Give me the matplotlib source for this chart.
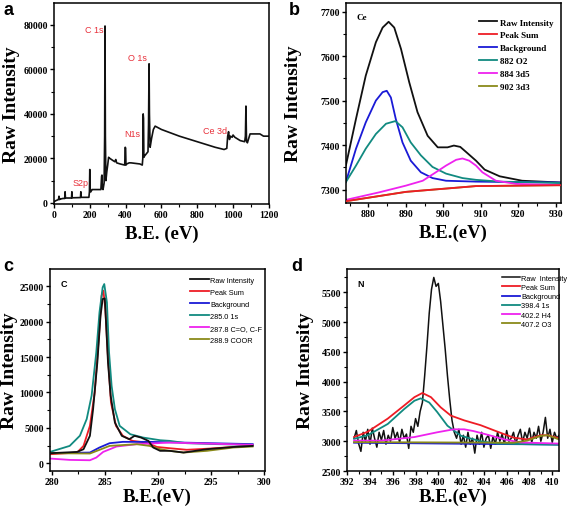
import matplotlib
matplotlib.use("Agg")
from matplotlib import pyplot as plt
from matplotlib.ticker import MultipleLocator

# ---------------- data ----------------
# (a) survey spectrum
a_x = [0, 10, 25, 28, 31, 34, 50, 60, 62, 64, 98, 100, 102, 148, 150, 152, 195, 198, 200, 202,
       206, 212, 216, 240, 262, 266, 268, 270, 274, 280, 283, 285, 287, 290, 295, 300, 305, 312,
       330, 340, 345, 350, 370, 395, 398, 400, 402, 406, 420, 430, 450, 480, 493, 496, 498, 500,
       502, 505, 515, 525, 528, 531, 533, 537, 545, 555, 565, 600, 700, 800, 900, 950, 965, 970,
       975, 980, 985, 995, 1000, 1010, 1040, 1065, 1069, 1072, 1075, 1080, 1095, 1110, 1150,
       1170, 1200]
a_y = [500, 1000, 1500, 3000, 1500, 1700, 2000, 2000, 5000, 2200, 2200, 5000, 2300, 2400, 5000,
       2500, 2500, 5000, 15000, 5000, 5000, 6000, 6000, 6000, 6000, 12000, 12500, 6500, 6000,
       9000, 30000, 79500, 30000, 10000, 14000, 17000, 20500, 20000, 19000, 18500, 19500, 18000,
       17500, 17000, 25000, 24500, 17000, 17500, 18000, 18000, 17800, 17500, 17000, 20000, 40000,
       38000, 20500, 21000, 22000, 23000, 35000, 62500, 40000, 25000, 29000, 33000, 34500, 33000,
       30000, 27500, 25000, 24000, 24500, 30000, 32000, 28500, 30000, 29500, 30500, 29500, 28000,
       27500, 30000, 43500, 28000, 27000, 31000, 31000, 31000, 30000, 30000]
a_labels = ["C 1s", "O 1s", "N1s", "Ce 3d", "S2p"]
a_label_pos = [(223, 77900), (465, 65250), (437, 31300), (902, 32500), (149, 9240)]

# (b) Ce
b_raw_x = [874, 876.7, 879.3, 882, 883.8, 885.4, 886.9, 888.7, 890.9, 893.1, 895.8, 898.5,
           901.1, 902.8, 904.5, 906, 908.7, 911, 915, 921, 931.3]
b_raw_y = [7354, 7459, 7556, 7631, 7664, 7677, 7664, 7616, 7541, 7474, 7421, 7395, 7395, 7399,
           7396, 7385, 7365, 7345, 7330, 7320, 7316]
b_bg_x = [874, 876.7, 879.3, 882, 883.8, 884.9, 886, 887.3, 889.1, 891.3, 894, 897.1, 900.7,
          908.7, 931.3]
b_bg_y = [7317, 7392, 7451, 7500, 7519, 7522, 7507, 7459, 7406, 7365, 7339, 7326, 7320, 7318,
          7316]
b_o2_x = [874, 876.7, 879.3, 882, 884.7, 887.2, 889.1, 891.3, 894, 897.1, 900.7, 905.1, 908.7,
          915, 931.3]
b_o2_y = [7317, 7354, 7392, 7425, 7448, 7454, 7440, 7406, 7377, 7351, 7336, 7326, 7322, 7318,
          7315]
b_3d5_x = [874, 882.9, 890, 894.5, 898, 900.7, 903.4, 905.1, 906.9, 908.7, 910.4, 914, 919.3,
           931.3]
b_3d5_y = [7277, 7294, 7309, 7320, 7339, 7354, 7367, 7370, 7365, 7354, 7339, 7320, 7313, 7310]
b_sum_x = [874, 890, 908.7, 931.3]
b_sum_y = [7274, 7295, 7308, 7310]

# (c) C
c_raw_x = [279.85, 282.4, 283, 283.6, 283.9, 284.3, 284.6, 284.8, 285, 285.1, 285.3, 285.55,
           285.95, 286.6, 287.3, 287.8, 288.4, 289.1, 289.55, 290.2, 291.1, 292.4, 294.6, 297.1,
           298.9]
c_raw_y = [1415, 1600, 1980, 3870, 7640, 14250, 20850, 23210, 23300, 20380, 14250, 9550, 5750,
           3870, 3400, 3870, 3630, 3160, 2220, 1750, 1750, 1510, 1980, 2300, 2450]
c_sum_x = [279.85, 282.4, 283, 283.6, 284.05, 284.45, 284.7, 284.87, 285.05, 285.27, 285.58,
           286.05, 286.7, 287.6, 288.9, 289.9, 291.1, 292.7, 294.6, 297.1, 298.9]
c_sum_y = [1270, 1510, 2450, 5280, 10000, 18020, 23680, 24390, 21790, 15660, 8580, 5280, 3870,
           3160, 2920, 2300, 2120, 1900, 2050, 2300, 2550]
c_bg_x = [279.85, 283.6, 284.5, 285.45, 286.7, 289.2, 298.9]
c_bg_y = [1415, 1510, 2220, 2830, 3020, 3020, 2700]
c_1s_x = [279.85, 281.7, 282.66, 283.3, 283.76, 284.2, 284.5, 284.8, 284.95, 285.2, 285.4,
          285.64, 285.95, 286.4, 287.4, 288.6, 290.2, 291.1, 292.7, 295.5, 298.9]
c_1s_y = [1600, 2450, 3890, 6250, 9550, 15660, 21320, 24860, 25330, 22730, 15660, 10940, 7640,
          5280, 4100, 3630, 3250, 3160, 2830, 2700, 2600]
c_co_x = [279.85, 281.7, 283.6, 284.2, 284.85, 286.1, 288, 291.1, 298.9]
c_co_y = [660, 470, 420, 800, 1600, 2360, 2690, 2920, 2600]
c_coor_x = [279.85, 283.6, 284.5, 285.45, 288, 289.2, 290.2, 291.1, 292.4, 294.6, 297.1, 298.9]
c_coor_y = [1415, 1370, 1890, 2450, 2690, 2450, 1990, 1750, 1510, 1750, 2220, 2360]

# (d) N
d_raw_x = [392.6, 392.8, 393.0, 393.2, 393.4, 393.6, 393.8, 394.0, 394.2, 394.4,
           394.6, 394.8, 395.0, 395.2, 395.4, 395.6, 395.8, 396.0, 396.2, 396.4,
           396.6, 396.8, 397.0, 397.2, 397.4, 397.6, 397.8, 398.0, 398.2, 398.4,
           398.6, 398.8, 399.0, 399.2, 399.4, 399.6, 399.8, 400.0, 400.2, 400.4,
           400.6, 400.8, 401.0, 401.2, 401.4, 401.6, 401.8, 402.0, 402.2, 402.4,
           402.6, 402.8, 403.0, 403.2, 403.4, 403.6, 403.8, 404.0, 404.2, 404.4,
           404.6, 404.8, 405.0, 405.2, 405.4, 405.6, 405.8, 406.0, 406.2, 406.4,
           406.6, 406.8, 407.0, 407.2, 407.4, 407.6, 407.8, 408.0, 408.2, 408.4,
           408.6, 408.8, 409.0, 409.2, 409.4, 409.6, 409.8, 410.0, 410.2, 410.4,
           410.6]
d_raw_y = [3050, 3180, 2960, 2830, 3150, 3000, 3200, 2950, 3220, 3050,
           2900, 3150, 3020, 3180, 2950, 3100, 3000, 3230, 3050, 3150,
           2980, 3200, 3050, 3120, 2880, 3250, 3150, 3380, 3250, 3500,
           3650, 4100, 4600, 5150, 5550, 5750, 5600, 5650, 5350, 4950,
           4550, 4100, 3700, 3350, 3150, 3050, 3200, 2950, 3100, 2900,
           3150, 2950, 3050, 2800, 3100, 2950, 3150, 2900, 3050, 3100,
           2880, 3080, 2950, 3150, 3000, 3120, 2950, 3180, 3000, 3050,
           3150, 2950, 3100, 3200, 2980, 3150, 3050, 3220, 2980, 3150,
           3050, 3250, 3000, 3150, 3400, 3050, 3200, 2980, 3150, 3050,
           3100]
d_sum_x = [392.6, 393.8, 395.56, 397, 397.9, 398.6, 399.35, 400.2, 401.1, 402.27, 403.7, 405.2,
           406.6, 407.8, 409, 409.6, 410.6]
d_sum_y = [3070, 3160, 3380, 3600, 3740, 3810, 3740, 3570, 3430, 3350, 3270, 3160, 3060, 3030,
           3100, 3100, 3050]
d_bg_x = [392.6, 403.7, 410.6]
d_bg_y = [2975, 2955, 2945]
d_1s_x = [392.6, 393.8, 395.56, 397, 397.9, 398.45, 399.2, 399.9, 400.8, 402, 403.7, 405.2,
          410.6]
d_1s_y = [3040, 3100, 3290, 3540, 3680, 3720, 3650, 3490, 3260, 3090, 3000, 2960, 2940]
d_h4_x = [392.6, 395, 397.9, 399.9, 401.35, 402.27, 403.1, 404.3, 405.8, 407.2, 410.6]
d_h4_y = [3010, 3010, 3070, 3150, 3200, 3200, 3170, 3110, 3030, 2980, 2960]
d_o3_x = [392.6, 406.6, 407.8, 409, 409.6, 410.6]
d_o3_y = [2985, 2975, 3010, 3090, 3100, 3030]

# ---------------- style ----------------
SERIF = "Liberation Serif"
SANS = "Liberation Sans"
BLACK, RED, BLUE, TEAL, MAG, OLIVE = "#111111", "#ee1c25", "#1a1ad6", "#118a80", "#ee22ee", "#8a8a1a"
LW = 1.3

fig = plt.figure(figsize=(5.67, 5.10), dpi=100)
ax_a = fig.add_axes([0.0952, 0.598, 0.379, 0.394])
ax_b = fig.add_axes([0.610, 0.600, 0.379, 0.392])
ax_c = fig.add_axes([0.0882, 0.0745, 0.379, 0.396])
ax_d = fig.add_axes([0.612, 0.0745, 0.374, 0.396])


def style(ax, xlabel, xmaj, xmin, ymaj, ymin, ylab_x, xpad):
    ax.set_xlabel(xlabel, family=SERIF, weight="bold", fontsize=13.5, labelpad=xpad)
    ax.set_ylabel("Raw Intensity", family=SERIF, weight="bold", fontsize=14)
    ax.yaxis.set_label_coords(ylab_x, 0.5)
    ax.xaxis.set_major_locator(MultipleLocator(xmaj))
    ax.xaxis.set_minor_locator(MultipleLocator(xmin))
    ax.yaxis.set_major_locator(MultipleLocator(ymaj))
    ax.yaxis.set_minor_locator(MultipleLocator(ymin))
    ax.tick_params(which="major", direction="out", length=3, width=1, pad=1.5, labelsize=7)
    ax.tick_params(which="minor", direction="out", length=2, width=0.8)
    for lab in ax.get_xticklabels() + ax.get_yticklabels():
        lab.set_family(SERIF)
        lab.set_weight("bold")
    for sp in ax.spines.values():
        sp.set_linewidth(1.1)


# (a)
ax_a.plot(a_x, a_y, color=BLACK, lw=1.2)
for txt, (tx, ty) in zip(a_labels, a_label_pos):
    ax_a.text(tx, ty, txt, color="#e8303a", family=SANS, fontsize=6.5, ha="center", va="center")
ax_a.set_xlim(0, 1200)
ax_a.set_ylim(-500, 89800)
style(ax_a, "B.E. (eV)", 200, 100, 20000, 10000, -0.16, 4)

# (b)
ax_b.plot(b_raw_x, b_raw_y, color=BLACK, lw=LW, label="Raw Intensity")
ax_b.plot(b_sum_x, b_sum_y, color=RED, lw=LW, label="Peak Sum", zorder=3)
ax_b.plot(b_bg_x, b_bg_y, color=BLUE, lw=LW, label="Background")
ax_b.plot(b_o2_x, b_o2_y, color=TEAL, lw=LW, label="882 O2")
ax_b.plot(b_3d5_x, b_3d5_y, color=MAG, lw=LW, label="884 3d5")
ax_b.plot(b_sum_x, b_sum_y, color=OLIVE, lw=LW, label="902 3d3", zorder=1)
ax_b.text(0.05, 0.95, "Ce", transform=ax_b.transAxes, family=SERIF, weight="bold", fontsize=6.5,
          va="top")
ax_b.set_xlim(874, 931.3)
ax_b.set_ylim(7270, 7719)
style(ax_b, "B.E.(eV)", 10, 5, 100, 50, -0.205, 4)
ax_b.legend(loc="upper left", bbox_to_anchor=(0.58, 0.965), frameon=False, handlelength=2.0,
            handletextpad=0.35, labelspacing=0.5,
            prop={"family": SERIF, "weight": "bold", "size": 6.5})

# (c)
ax_c.plot(c_raw_x, c_raw_y, color=BLACK, lw=LW, label="Raw Intensity", zorder=4)
ax_c.plot(c_sum_x, c_sum_y, color=RED, lw=LW, label="Peak Sum")
ax_c.plot(c_bg_x, c_bg_y, color=BLUE, lw=LW, label="Background")
ax_c.plot(c_1s_x, c_1s_y, color=TEAL, lw=LW, label="285.0 1s")
ax_c.plot(c_co_x, c_co_y, color=MAG, lw=LW, label="287.8 C=O, C-F")
ax_c.plot(c_coor_x, c_coor_y, color=OLIVE, lw=LW, label="288.9 COOR")
ax_c.text(0.05, 0.95, "C", transform=ax_c.transAxes, family=SANS, weight="bold", fontsize=6.5,
          va="top")
ax_c.set_xlim(279.85, 300.05)
ax_c.set_ylim(-1100, 27450)
style(ax_c, "B.E.(eV)", 5, 2.5, 5000, 2500, -0.15, 1)
ax_c.legend(loc="upper left", bbox_to_anchor=(0.62, 0.995), frameon=False, handlelength=2.6,
            handletextpad=0.2, labelspacing=0.65, prop={"family": SANS, "size": 5.3})

# (d)
ax_d.plot(d_raw_x, d_raw_y, color=BLACK, lw=1.1, label="Raw  Intensity")
ax_d.plot(d_sum_x, d_sum_y, color=RED, lw=LW, label="Peak Sum")
ax_d.plot(d_bg_x, d_bg_y, color=BLUE, lw=LW, label="Background")
ax_d.plot(d_1s_x, d_1s_y, color=TEAL, lw=LW, label="398.4 1s")
ax_d.plot(d_h4_x, d_h4_y, color=MAG, lw=LW, label="402.2 H4")
ax_d.plot(d_o3_x, d_o3_y, color=OLIVE, lw=LW, label="407.2 O3")
ax_d.text(0.05, 0.95, "N", transform=ax_d.transAxes, family=SANS, weight="bold", fontsize=6.5,
          va="top")
ax_d.set_xlim(391.98, 410.6)
ax_d.set_ylim(2500, 5891)
style(ax_d, "B.E.(eV)", 2, 1, 500, 250, -0.155, 1)
ax_d.legend(loc="upper left", bbox_to_anchor=(0.70, 1.005), frameon=False, handlelength=2.4,
            handletextpad=0.2, labelspacing=0.28, prop={"family": SANS, "size": 5.3})

# panel letters
for letter, (px, py) in zip("abcd", [(4, 2), (289, 2), (3, 258), (291, 258)]):
    fig.text(px / 567, 1 - py / 510, letter, family=SANS, weight="bold", fontsize=13,
             ha="left", va="top")

fig.savefig("out.png", dpi=100)
